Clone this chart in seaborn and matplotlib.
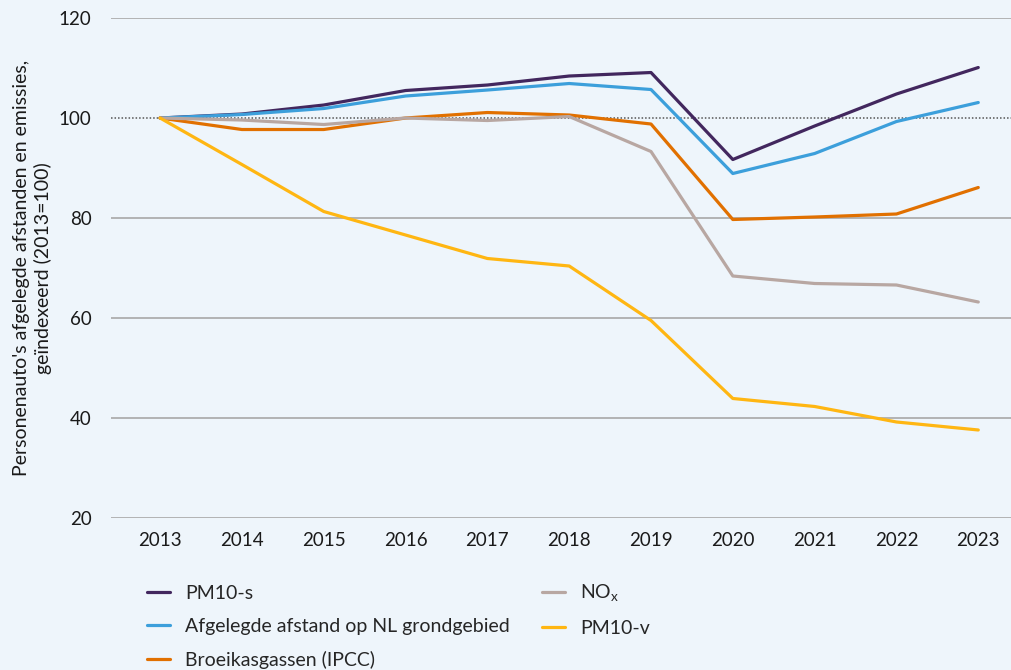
import pandas as pd
import matplotlib.pyplot as plt
import seaborn as sns

# Years and indexed series (2013=100)
years = [2013, 2014, 2015, 2016, 2017, 2018, 2019, 2020, 2021, 2022, 2023]
pm10_s = [100, 100.8, 102.6, 105.5, 106.6, 108.4, 109.1, 91.7, 98.4, 104.8, 110.1]
afstand = [100, 100.7, 101.9, 104.4, 105.6, 106.9, 105.7, 88.9, 92.9, 99.3, 103.1]
broeikas = [100, 97.7, 97.7, 100.0, 101.1, 100.6, 98.8, 79.7, 80.2, 80.8, 86.1]
nox = [100, 99.6, 98.7, 100.0, 99.5, 100.3, 93.3, 68.4, 66.9, 66.6, 63.2]
pm10_v = [100, 90.7, 81.3, 76.6, 71.9, 70.4, 59.5, 43.9, 42.3, 39.2, 37.6]

series_names = ['PM10-s', 'Afgelegde afstand op NL grondgebied',
                'Broeikasgassen (IPCC)', 'NO$_\\mathregular{x}$', 'PM10-v']
series_values = [pm10_s, afstand, broeikas, nox, pm10_v]
colors = ['#42275e', '#3c9fdb', '#e17000', '#b8a7a2', '#ffb612']

rows = []
for name, vals in zip(series_names, series_values):
    for yr, v in zip(years, vals):
        rows.append((yr, v, name))
df = pd.DataFrame(rows, columns=['Jaar', 'Index', 'Reeks'])

bg = '#eef5fb'
sns.set_style('white')
plt.rcParams['font.family'] = ['Lato', 'DejaVu Sans']
plt.rcParams['mathtext.fontset'] = 'custom'
plt.rcParams['mathtext.rm'] = 'Lato'

fig = plt.figure(figsize=(10.11, 6.7), dpi=100, facecolor=bg)
ax = fig.add_axes([0.1098, 0.2269, 0.8902, 0.7462])
ax.set_facecolor(bg)

# gridlines (solid) and dotted reference line at 100
for g in [20, 40, 60, 80, 120]:
    ax.axhline(g, color='#a8a8a8', lw=1.2, zorder=0)
ax.axhline(100, color='#555555', lw=1.1, ls=(0, (1, 1.3)), zorder=0)

sns.lineplot(data=df, x='Jaar', y='Index', hue='Reeks', hue_order=series_names,
             palette=colors, linewidth=2.3, ax=ax)

ax.set_xlim(2012.4, 2023.4)
ax.set_ylim(20, 120)
ax.set_xticks(years)
ax.set_xticklabels([str(y) for y in years])
ax.set_yticks([20, 40, 60, 80, 100, 120])
ax.tick_params(axis='both', length=0, labelsize=13.5, colors='#1a1a1a')
ax.tick_params(axis='y', pad=14)
ax.tick_params(axis='x', pad=10)
for s in ax.spines.values():
    s.set_visible(False)
ax.set_xlabel('')
ax.set_ylabel("Personenauto's afgelegde afstanden en emissies,\ngeïndexeerd (2013=100)",
              fontsize=14, color='#1a1a1a', labelpad=5, linespacing=1.25)

handles, labels = ax.get_legend_handles_labels()
ax.get_legend().remove()
fig.legend(handles, labels, ncol=2, loc='upper left', bbox_to_anchor=(0.1377, 0.1418),
           frameon=False, fontsize=14, handlelength=1.2, handletextpad=0.77,
           columnspacing=1.65, labelspacing=0.83, borderaxespad=0)

fig.savefig('out.png', dpi=100, facecolor=bg)
